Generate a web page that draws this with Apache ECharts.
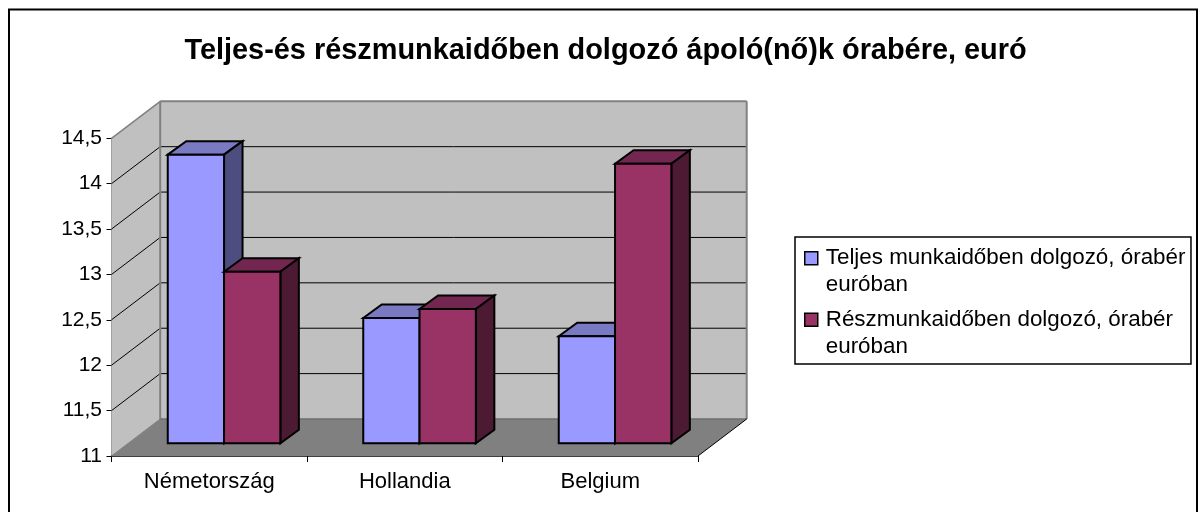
<!DOCTYPE html>
<html><head><meta charset="utf-8">
<style>html,body{margin:0;padding:0;background:#fff}#c{width:1198px;height:512px}</style>
<script src="https://cdn.jsdelivr.net/npm/echarts@6/dist/echarts.min.js"></script>
</head><body><div id="c"></div>
<script>
const categories = ['Németország', 'Hollandia', 'Belgium'];
const fullTime = [14.18, 12.38, 12.18];
const partTime = [12.89, 12.48, 14.08];
const yTicks = [11, 11.5, 12, 12.5, 13, 13.5, 14, 14.5];
const seriesNames = ['Teljes munkaidőben dolgozó, órabér\neuróban', 'Részmunkaidőben dolgozó, órabér\neuróban'];
const titleText = 'Teljes-és részmunkaidőben dolgozó ápoló(nő)k órabére, euró';

const FONT = '"Liberation Sans", Arial, sans-serif';
const WALL_DX = 48.7, WALL_DY = -37;   // depth of the 3D box
const BAR_DX = 14.8, BAR_DY = -12.7;   // front plane of bars
const TOP_DX = 18.5, TOP_DY = -13.5;   // depth of a bar
const BAR_W = 56.3;

function poly(points, fill, stroke, lw) {
  return { type: 'polygon', shape: { points }, style: { fill, stroke: stroke || null, lineWidth: lw || 0 } };
}
function line(x1, y1, x2, y2, stroke, lw) {
  return { type: 'line', shape: { x1, y1, x2, y2 }, style: { stroke, lineWidth: lw } };
}
function wallItem(params, api) {
  const cs = params.coordSys;
  const l = cs.x, r = cs.x + cs.width, t = cs.y, b = cs.y + cs.height;
  const d = [WALL_DX, WALL_DY];
  const kids = [
    poly([[l + d[0], t + d[1]], [r + d[0], t + d[1]], [r + d[0], b + d[1]], [l + d[0], b + d[1]]], '#c0c0c0'),
    poly([[l, t], [l + d[0], t + d[1]], [l + d[0], b + d[1]], [l, b]], '#c0c0c0'),
    poly([[l, b], [l + d[0], b + d[1]], [r + d[0], b + d[1]], [r, b]], '#808080')
  ];
  yTicks.forEach(v => {
    const y = api.coord([0, v])[1];
    if (v > 11 && v < 14.5) {
      kids.push(line(l, y, l + d[0], y + d[1], '#000', 1));
      kids.push(line(l + d[0], y + d[1], r + d[0], y + d[1], '#000', 1));
    }
  });
  kids.push(line(l, t, l + d[0], t + d[1], '#808080', 1.5));
  kids.push(line(l + d[0], t + d[1], r + d[0], t + d[1], '#808080', 2));
  kids.push(line(r + d[0], t + d[1], r + d[0], b + d[1], '#808080', 2));
  kids.push(line(l + d[0], t + d[1], l + d[0], b + d[1], '#808080', 2));
  kids.push(line(l + d[0], b + d[1], r + d[0], b + d[1], '#6e6e6e', 1.5));
  kids.push(line(l, b, l + d[0], b + d[1], '#808080', 1));
  kids.push(line(r, b, r + d[0], b + d[1], '#000', 1));
  return { type: 'group', children: kids };
}
function barItem(side, front, topc, sidec) {
  return function (params, api) {
    const c = api.coord([api.value(0), api.value(1)]);
    const base = api.coord([api.value(0), 11]);
    const x0 = c[0] + BAR_DX + (side < 0 ? -BAR_W : 0), x1 = x0 + BAR_W;
    const yT = c[1] + BAR_DY, yB = base[1] + BAR_DY;
    const s = { stroke: '#000', lineWidth: 2 };
    return { type: 'group', children: [
      poly([[x0, yT], [x0 + TOP_DX, yT + TOP_DY], [x1 + TOP_DX, yT + TOP_DY], [x1, yT]], topc, s.stroke, s.lineWidth),
      poly([[x1, yT], [x1 + TOP_DX, yT + TOP_DY], [x1 + TOP_DX, yB + TOP_DY], [x1, yB]], sidec, s.stroke, s.lineWidth),
      poly([[x0, yT], [x1, yT], [x1, yB], [x0, yB]], front, s.stroke, s.lineWidth)
    ] };
  };
}
const chart = echarts.init(document.getElementById('c'), null, { renderer: 'canvas' });
const markerPath = 'path://M0 7H13V20H0Z M0 0L0 0 M0 54L0 54';
chart.setOption({
  animation: false,
  backgroundColor: '#fff',
  title: { text: titleText, left: 600.5, top: 32, textAlign: 'center',
    textStyle: { fontFamily: FONT, fontWeight: 'bold', fontSize: 28.9, color: '#000' } },
  grid: { left: 111.5, top: 138.3, width: 586.5, height: 317.7, containLabel: false },
  legend: {
    left: 795, top: 237, orient: 'vertical', itemGap: 6, padding: [7, 5.5, 3, 9],
    backgroundColor: '#fff', borderColor: '#000', borderWidth: 1.5, borderRadius: 0,
    itemWidth: 13, itemHeight: 54,
    textStyle: { fontFamily: FONT, fontSize: 22.4, lineHeight: 27, color: '#000', padding: [0, 0, 0, 3] },
    data: seriesNames.map((n, i) => ({ name: n, icon: markerPath,
      itemStyle: { color: ['#9999ff', '#993366'][i], borderColor: '#000', borderWidth: 1.5 } }))
  },
  xAxis: { type: 'category', data: categories, boundaryGap: true,
    axisLine: { lineStyle: { color: '#000', width: 1.5 } },
    axisTick: { show: true, length: 6, lineStyle: { color: '#000', width: 1 } },
    axisLabel: { fontFamily: FONT, fontSize: 22, color: '#000', margin: 15 },
    splitLine: { show: false } },
  yAxis: { type: 'value', min: 11, max: 14.5, interval: 0.5,
    axisLine: { show: true, lineStyle: { color: '#595959', width: 1.5 } },
    axisTick: { show: true, length: 5, lineStyle: { color: '#000', width: 1 } },
    axisLabel: { fontFamily: FONT, fontSize: 21, color: '#000', margin: 9.5, padding: [2, 0, 0, 0],
      formatter: v => String(v).replace('.', ',') },
    splitLine: { show: false } },
  graphic: [{ type: 'rect', z: -10, silent: true,
    shape: { x: 9, y: 9.5, width: 1188, height: 510 }, style: { fill: '#fff', stroke: '#000', lineWidth: 2 } }],
  series: [
    { type: 'custom', name: 'walls', silent: true, z: 1, renderItem: wallItem, data: [[0, 11]], encode: { x: 0, y: 1 } },
    { type: 'custom', name: seriesNames[0], z: 3, itemStyle: { color: '#9999ff' },
      renderItem: barItem(-1, '#9999ff', '#7a7ac2', '#4d4d80'),
      data: fullTime.map((v, i) => [i, v]), encode: { x: 0, y: 1 } },
    { type: 'custom', name: seriesNames[1], z: 4, itemStyle: { color: '#993366' },
      renderItem: barItem(1, '#993366', '#732650', '#4d1a33'),
      data: partTime.map((v, i) => [i, v]), encode: { x: 0, y: 1 } }
  ]
});
</script></body></html>
